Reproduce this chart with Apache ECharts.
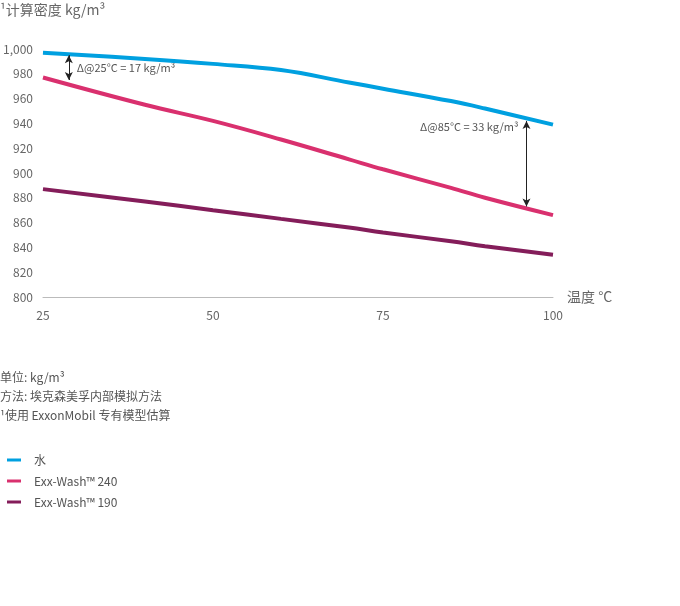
<!DOCTYPE html><html><head><meta charset="utf-8">
<script src="https://cdn.jsdelivr.net/npm/echarts@6/dist/echarts.min.js"></script>
<style>html,body{margin:0;padding:0;background:#fff}#c{width:680px;height:606px}</style></head><body><div id="c"></div>
<script>
const temps = [25, 40, 50, 60, 70, 75, 85, 90, 100];
const water = [997, 992, 988, 983, 973, 968, 958, 952, 939];
const wash240 = [977, 955, 942, 927, 911, 903, 888, 880, 866];
const wash190 = [887, 877, 870, 863, 856, 852, 845, 841, 834];
const names = ['水', 'Exx-Wash™ 240', 'Exx-Wash™ 190'];
const colors = ['#00a0e0', '#d9306e', '#841d5a'];
const arrow1 = [[28.8, 995], [28.8, 975]];
const arrow2 = [[96.1, 942], [96.1, 873]];
const notes = ['单位: kg/m³', '方法: 埃克森美孚内部模拟方法', '¹使用 ExxonMobil 专有模型估算'];
const F = '"Noto Sans CJK SC","Noto Sans",sans-serif';
const mk = (vals) => temps.map((t, i) => [t, vals[i]]);
const chart = echarts.init(document.getElementById('c'));
const arrowLine = (pts) => ({
  data: [[{coord: pts[0]}, {coord: pts[1]}]],
  symbol: ['arrow', 'arrow'], symbolSize: [6, 8], silent: true,
  lineStyle: {color: '#222', width: 1, type: 'solid'}, label: {show: false}
});
chart.setOption({
  animation: false,
  textStyle: {fontFamily: F},
  grid: {left: 42, right: 127, top: 49, bottom: 309},
  xAxis: {type: 'value', min: 25, max: 100, interval: 25,
    name: '温度 °C', nameLocation: 'end', nameGap: 14,
    nameTextStyle: {color: '#666', fontSize: 14, padding: [0, 0, 0, 0], verticalAlign: 'middle'},
    axisLine: {lineStyle: {color: '#bbb'}}, axisTick: {show: false}, splitLine: {show: false},
    axisLabel: {color: '#666', fontSize: 12, margin: 12}},
  yAxis: {type: 'value', min: 800, max: 1000, interval: 20,
    axisLine: {show: false}, axisTick: {show: false}, splitLine: {show: false},
    axisLabel: {color: '#666', fontSize: 12, margin: 10}},
  legend: {orient: 'vertical', left: 2, top: 449, itemGap: 9, icon: 'rect', itemWidth: 14, itemHeight: 3,
    textStyle: {color: '#555', fontSize: 12, padding: [0, 0, 0, 8]}, data: names},
  series: [
    {name: names[0], type: 'line', data: mk(water), smooth: 0.4, showSymbol: false, lineStyle: {width: 4, color: colors[0]}, itemStyle: {color: colors[0]}, markLine: arrowLine(arrow2)},
    {name: names[1], type: 'line', data: mk(wash240), smooth: 0.4, showSymbol: false, lineStyle: {width: 4, color: colors[1]}, itemStyle: {color: colors[1]}, markLine: arrowLine(arrow1)},
    {name: names[2], type: 'line', data: mk(wash190), smooth: 0.4, showSymbol: false, lineStyle: {width: 4, color: colors[2]}, itemStyle: {color: colors[2]}}
  ],
  graphic: [
    {type: 'text', left: 0, top: 3, style: {text: '¹计算密度 kg/m³', fill: '#666', fontSize: 14, fontFamily: F}},
    {type: 'text', left: 0, top: 368, style: {text: notes.join('\n'), fill: '#555', fontSize: 12, lineHeight: 19, fontFamily: F}}
  ]
});
const p1 = chart.convertToPixel({gridIndex: 0}, [28.8, 985]);
const p2 = chart.convertToPixel({gridIndex: 0}, [96.1, 912]);
chart.setOption({graphic: [
  {type: 'text', left: 0, top: 3, style: {text: '¹计算密度 kg/m³', fill: '#666', fontSize: 14, fontFamily: F}},
  {type: 'text', left: 0, top: 368, style: {text: notes.join('\n'), fill: '#555', fontSize: 12, lineHeight: 19, fontFamily: F}},
  {type: 'text', x: p1[0] + 8, y: p1[1], style: {text: 'Δ@25°C = 17 kg/m³', fill: '#555', fontSize: 11, verticalAlign: 'middle', fontFamily: F}},
  {type: 'text', x: p2[0] - 8, y: p2[1] - 31, style: {text: 'Δ@85°C = 33 kg/m³', fill: '#555', fontSize: 11, align: 'right', verticalAlign: 'middle', fontFamily: F}}
]});
</script></body></html>
